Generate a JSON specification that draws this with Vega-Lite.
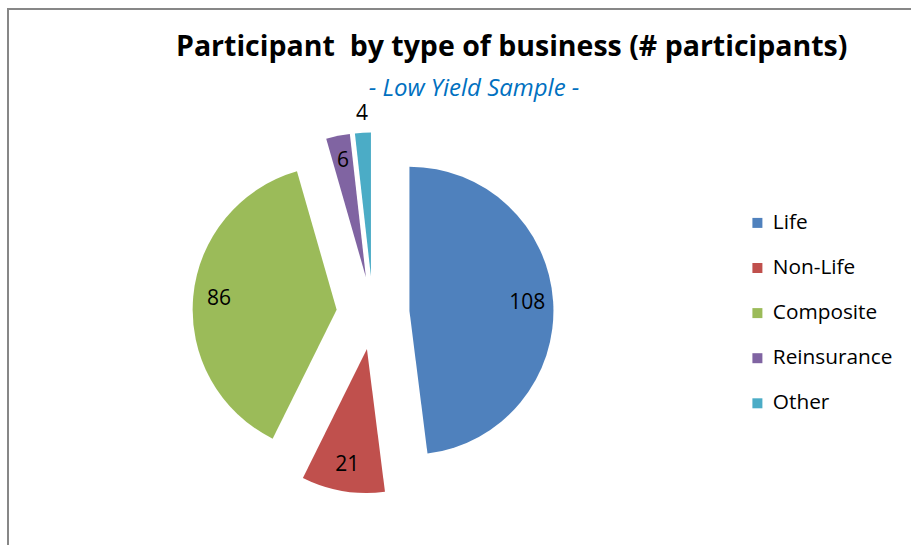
{
  "$schema": "https://vega.github.io/schema/vega-lite/v6.json",
  "width": 906,
  "height": 540,
  "autosize": {"type": "none"},
  "padding": {"left": 8, "top": 9, "right": -3, "bottom": -4},
  "background": "white",
  "title": {
    "text": "Participant\u00a0 by type of business (# participants)",
    "anchor": "start",
    "frame": "group",
    "dx": 168,
    "offset": -52,
    "font": "Open Sans",
    "fontSize": 28.5,
    "fontWeight": "bold",
    "color": "#000000"
  },
  "data": {
    "values": [
      {"type": "Life", "count": 108},
      {"type": "Non-Life", "count": 21},
      {"type": "Composite", "count": 86},
      {"type": "Reinsurance", "count": 6},
      {"type": "Other", "count": 4}
    ]
  },
  "transform": [
    {"joinaggregate": [{"op": "sum", "field": "count", "as": "total"}]},
    {"window": [{"op": "sum", "field": "count", "as": "cum"}], "frame": [null, 0]},
    {"calculate": "(datum.cum - datum.count) / datum.total", "as": "f0"},
    {"calculate": "datum.cum / datum.total", "as": "f1"},
    {"calculate": "PI * (datum.f0 + datum.f1)", "as": "mid"},
    {"calculate": "0.2535 * sin(datum.mid)", "as": "cx"},
    {"calculate": "0.2535 * cos(datum.mid)", "as": "cy"},
    {"calculate": "datum.count < 5 ? 1.13 : 0.82", "as": "lr"},
    {"calculate": "datum.cx + datum.lr * sin(datum.mid)", "as": "lx"},
    {"calculate": "datum.cy + datum.lr * cos(datum.mid)", "as": "ly"}
  ],
  "layer": [
    {
      "mark": {"type": "arc", "radius": 144},
      "encoding": {
        "theta": {"field": "f0", "type": "quantitative", "stack": null, "scale": {"domain": [0, 1], "range": [0, 6.283185307179586]}},
        "theta2": {"field": "f1"},
        "x": {"field": "cx", "type": "quantitative", "scale": {"domain": [-2.53472, 3.75694], "nice": false, "zero": false}, "axis": null},
        "y": {"field": "cy", "type": "quantitative", "scale": {"domain": [-1.63889, 2.11111], "nice": false, "zero": false}, "axis": null},
        "color": {
          "field": "type",
          "type": "nominal",
          "scale": {
            "domain": ["Life", "Non-Life", "Composite", "Reinsurance", "Other"],
            "range": ["#4F81BD", "#C0504D", "#9BBB59", "#8064A2", "#4BACC6"]
          },
          "legend": {
            "title": null,
            "orient": "none",
            "legendX": 739,
            "legendY": 203.5,
            "padding": 0,
            "symbolType": "square",
            "symbolSize": 100,
            "symbolStrokeWidth": 0,
            "labelFont": "Open Sans",
            "labelFontSize": 20.8,
            "labelColor": "#000000",
            "labelOffset": 5,
            "rowPadding": 23.1
          }
        },
        "order": {"field": "f0", "type": "quantitative"}
      }
    },
    {
      "mark": {"type": "text", "font": "Open Sans", "fontSize": 21, "color": "#000000", "align": "center", "baseline": "middle"},
      "encoding": {
        "x": {"field": "lx", "type": "quantitative"},
        "y": {"field": "ly", "type": "quantitative"},
        "text": {"field": "count", "type": "quantitative"}
      }
    },
    {
      "data": {"values": [{"t": "- Low Yield Sample -", "px": 0.7014, "py": 1.5556}]},
      "mark": {"type": "text", "font": "Open Sans", "fontSize": 24, "fontStyle": "italic", "color": "#0070C0", "align": "center", "baseline": "middle"},
      "encoding": {
        "x": {"field": "px", "type": "quantitative"},
        "y": {"field": "py", "type": "quantitative"},
        "text": {"field": "t", "type": "nominal"}
      }
    }
  ],
  "config": {
    "view": {"stroke": "#878787", "strokeWidth": 2},
    "font": "Open Sans"
  }
}
